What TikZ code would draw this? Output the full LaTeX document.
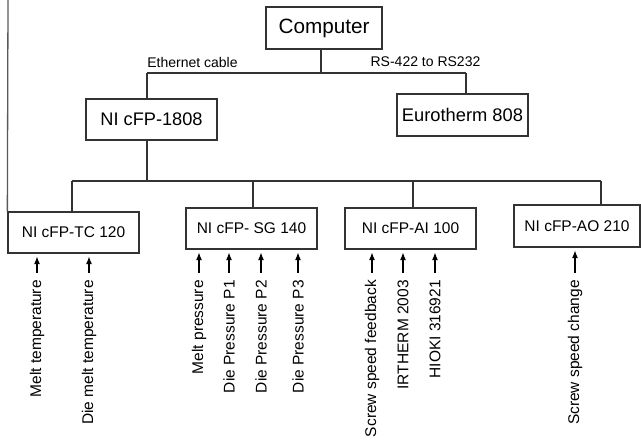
\documentclass[tikz,border=0pt]{standalone}
\usepackage{fontspec}
\setmainfont{Liberation Sans}
\usetikzlibrary{arrows.meta}
\begin{document}
\begin{tikzpicture}[x=1pt,y=-1pt,
  line/.style={draw=black!80,line width=1.3pt},
  box/.style={line,fill=white,inner sep=0pt,minimum width=131pt,minimum height=41pt},
  smallf/.style={font=\fontsize{15.5}{16}\selectfont},
  lab/.style={smallf,rotate=90,anchor=east,inner sep=0pt},
  arr/.style={draw=black,line width=1.4pt,-{Latex[length=8pt,width=6pt]},shorten <=7pt,shorten >=2.5pt},
  conn/.style={font=\fontsize{14}{15}\selectfont,inner sep=0pt}]
\useasboundingbox (0,0) rectangle (641,441);
% boxes
\node[box,minimum width=116pt,minimum height=42pt,font=\fontsize{20.7}{22}\selectfont] (comp) at (324,28) {Computer};
\node[box,font=\fontsize{18.2}{19}\selectfont] (n1808) at (151.5,119.5) {NI cFP-1808};
\node[box,minimum height=42pt,font=\fontsize{18.3}{19}\selectfont] (euro) at (462.5,115) {Eurotherm 808};
\node[box,smallf] (tc) at (73.5,232.5) {NI cFP-TC 120};
\node[box,smallf] (sg) at (251.5,228.5) {NI cFP- SG 140};
\node[box,smallf] (ai) at (410.5,228.5) {NI cFP-AI 100};
\node[box,smallf,minimum width=126pt,minimum height=42pt] (ao) at (577,226) {NI cFP-AO 210};
% connector labels
\node[conn] (eth) at (192.5,62) {Ethernet cable};
\node[conn] (rs) at (425.5,62) {RS-422 to RS232};
% upper bus
\coordinate (j1) at (321,73);
\coordinate (ea) at (147,73);
\coordinate (eb) at (466,73);
\draw[line] (ea) -- (eb);
\draw[line] (comp.south -| j1) -- (j1);
\draw[line] (n1808.north -| ea) -- (ea);
\draw[line] (euro.north -| eb) -- (eb);
% lower bus
\coordinate (j2) at (147,181);
\coordinate (ba) at (72,181);
\coordinate (bb) at (253,181);
\coordinate (bc) at (413,181);
\coordinate (bd) at (601,181);
\draw[line] (ba) -- (bd);
\draw[line] (n1808.south -| j2) -- (j2);
\draw[line] (tc.north -| ba) -- (ba);
\draw[line] (sg.north -| bb) -- (bb);
\draw[line] (ai.north -| bc) -- (bc);
\draw[line] (ao.north -| bd) -- (bd);
% left line
\coordinate (top) at (8,0);
\draw[line,draw=black!65] (top) -- (tc.north west);
% input labels
\node[lab] (l1) at (37,280) {Melt temperature};
\node[lab] (l2) at (89,280) {Die melt temperature};
\node[lab] (l3) at (199,280) {Melt pressure};
\node[lab] (l4) at (229,280) {Die Pressure P1};
\node[lab] (l5) at (261,280) {Die Pressure P2};
\node[lab] (l6) at (298,280) {Die Pressure P3};
\node[lab] (l7) at (372,280) {Screw speed feedback};
\node[lab] (l8) at (403,280) {IRTHERM 2003};
\node[lab] (l9) at (435,280) {HIOKI 316921};
\node[lab] (l10) at (575,280) {Screw speed change};
\foreach \l/\b in {l1/tc,l2/tc,l3/sg,l4/sg,l5/sg,l6/sg,l7/ai,l8/ai,l9/ai,l10/ao}
  \draw[arr] (\l.east) -- (\l.east |- \b.south);
\end{tikzpicture}
\end{document}
